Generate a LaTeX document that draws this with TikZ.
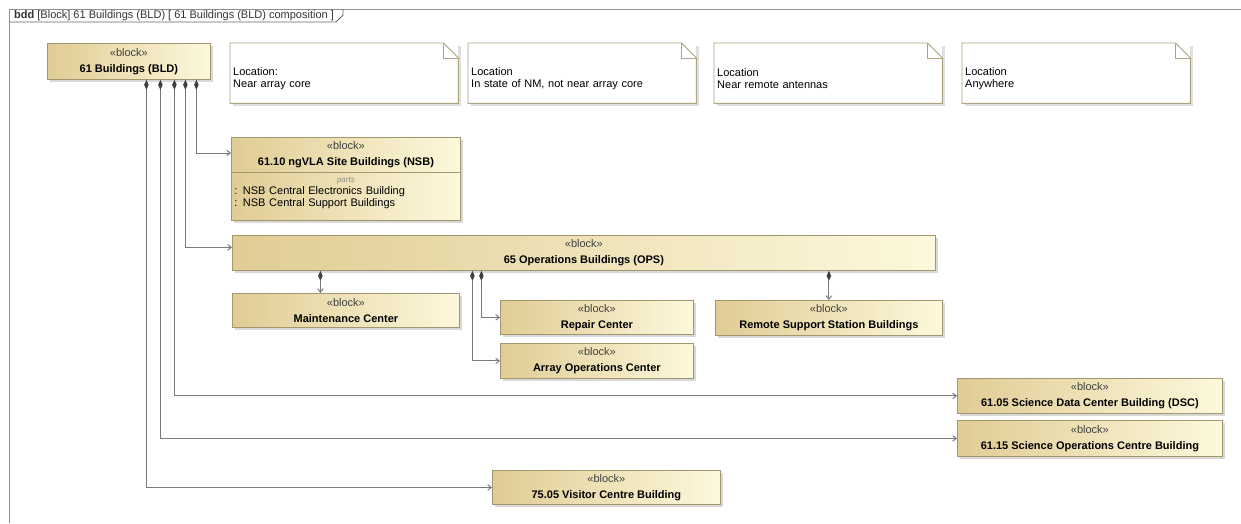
\documentclass[tikz,border=0pt]{standalone}
\usepackage{fontspec}
\setmainfont{Liberation Sans}
\usetikzlibrary{arrows.meta, positioning, shadows}

\definecolor{blockdark}{HTML}{E0CC94}
\definecolor{blocklight}{HTML}{FDF8DC}
\definecolor{blockline}{HTML}{A39770}
\definecolor{notedraw}{HTML}{ADA57F}
\definecolor{wire}{HTML}{7A7A7A}
\definecolor{framegray}{HTML}{8F8F8F}

\newcommand{\blockst}{{\mdseries\color{black!75}«block»}}

\begin{document}
\begin{tikzpicture}[
    x=1pt, y=-1pt,
    every node/.style={align=center},
    block/.style={rectangle, anchor=north west, draw=blockline, line width=0.8pt, left color=blockdark, right color=blocklight, drop shadow={shadow xshift=2.5pt, shadow yshift=-2.5pt, fill=black!30}, inner sep=2pt, font=\fontsize{11}{16}\selectfont\bfseries},
    compartment/.style={block, align=left, inner xsep=3pt, inner ysep=2pt, font=\fontsize{11}{12}\selectfont},
    notebox/.style={rectangle, anchor=north west, fill=white, drop shadow={shadow xshift=2.5pt, shadow yshift=-2.5pt, fill=black!25}, minimum width=228pt, minimum height=60pt, inner xsep=3pt, text width=222pt, align=left, text height=19pt, font=\fontsize{11}{12.5}\selectfont},
    foldline/.style={draw=notedraw, line width=0.9pt},
    comp/.style={draw=wire, line width=1pt, {Diamond[length=10pt, width=4.5pt, color=black!75]}-{Straight Barb[length=3.5pt, width=5.5pt]}}
]
\useasboundingbox (0,0) rectangle (1241,523);

% Frame and tab
\draw[framegray, line width=1pt] (9,523) -- (9,9) -- (1241,9);
\draw[black!60, line width=0.8pt] (9,22) -- (336,22) -- (343,15) -- (343,9);
\node[anchor=west, inner sep=0pt, font=\fontsize{11}{12}\selectfont, text=black!80] (tab) at (14,16) {\textbf{bdd} [Block] 61 Buildings (BLD) [ 61 Buildings (BLD) composition ]};

% Top block
\node[block, minimum width=163pt, minimum height=36pt] (bld) at (47,43) {\blockst\\61 Buildings (BLD)};

% Location notes
\node[notebox] (loccore) at (230,43) {Location:\\Near array core};
\node[notebox] (locstate) at (468,43) {Location\\In state of NM, not near array core};
\node[notebox] (locremote) at (714,43) {Location\\Near remote antennas};
\node[notebox] (locany) at (962,43) {Location\\Anywhere};
\draw[foldline] (loccore.north west) -- ([xshift=-15pt]loccore.north east) -- ([yshift=-15pt]loccore.north east) -- (loccore.south east) -- (loccore.south west) -- cycle;
\draw[foldline] ([xshift=-15pt]loccore.north east) |- ([yshift=-15pt]loccore.north east);
\draw[foldline] (locstate.north west) -- ([xshift=-15pt]locstate.north east) -- ([yshift=-15pt]locstate.north east) -- (locstate.south east) -- (locstate.south west) -- cycle;
\draw[foldline] ([xshift=-15pt]locstate.north east) |- ([yshift=-15pt]locstate.north east);
\draw[foldline] (locremote.north west) -- ([xshift=-15pt]locremote.north east) -- ([yshift=-15pt]locremote.north east) -- (locremote.south east) -- (locremote.south west) -- cycle;
\draw[foldline] ([xshift=-15pt]locremote.north east) |- ([yshift=-15pt]locremote.north east);
\draw[foldline] (locany.north west) -- ([xshift=-15pt]locany.north east) -- ([yshift=-15pt]locany.north east) -- (locany.south east) -- (locany.south west) -- cycle;
\draw[foldline] ([xshift=-15pt]locany.north east) |- ([yshift=-15pt]locany.north east);

% Site buildings with parts compartment
\node[block, minimum width=229pt, minimum height=35pt] (nsb) at (231,137) {\blockst\\61.10 ngVLA Site Buildings (NSB)};
\node[compartment, minimum width=229pt, minimum height=48pt, text width=223pt, text height=8pt, text depth=36pt] (nsbparts) at (231,172) {\makebox[223pt]{\fontsize{8}{12}\selectfont\itshape\color{black!45}parts}\\: NSB Central Electronics Building\\: NSB Central Support Buildings};

% Operations buildings and their parts
\node[block, minimum width=703pt, minimum height=35pt] (ops) at (232,235) {\blockst\\65 Operations Buildings (OPS)};
\node[block, minimum width=227pt, minimum height=34pt] (maint) at (232,293) {\blockst\\Maintenance Center};
\node[block, minimum width=193pt, minimum height=34pt] (repair) at (500,300) {\blockst\\Repair Center};
\node[block, minimum width=193pt, minimum height=35pt] (arrayops) at (500,343) {\blockst\\Array Operations Center};
\node[block, minimum width=227pt, minimum height=35pt] (remote) at (715,300) {\blockst\\Remote Support Station Buildings};

% Other buildings
\node[block, minimum width=265pt, minimum height=35pt] (dsc) at (957,378) {\blockst\\61.05 Science Data Center Building (DSC)};
\node[block, minimum width=265pt, minimum height=36pt] (soc) at (957,420) {\blockst\\61.15 Science Operations Centre Building};
\node[block, minimum width=228pt, minimum height=34pt] (visitor) at (492,470) {\blockst\\75.05 Visitor Centre Building};

% Composition links
\draw[comp] ([xshift=67.5pt]bld.south) |- ([yshift=-16pt]nsb.north west);
\draw[comp] ([xshift=56.5pt]bld.south) |- ([yshift=5.5pt]ops.west);
\draw[comp] ([xshift=45.5pt]bld.south) |- (dsc.west);
\draw[comp] ([xshift=31.5pt]bld.south) |- (soc.west);
\draw[comp] ([xshift=17.5pt]bld.south) |- (visitor.west);
\draw[comp] ([xshift=-263.5pt]ops.south) -- ([xshift=-25.5pt]maint.north);
\draw[comp] ([xshift=-102.5pt]ops.south) |- (repair.west);
\draw[comp] ([xshift=-111.5pt]ops.south) |- (arrayops.west);
\draw[comp] (ops.south -| remote.north) -- (remote.north);

\end{tikzpicture}
\end{document}
